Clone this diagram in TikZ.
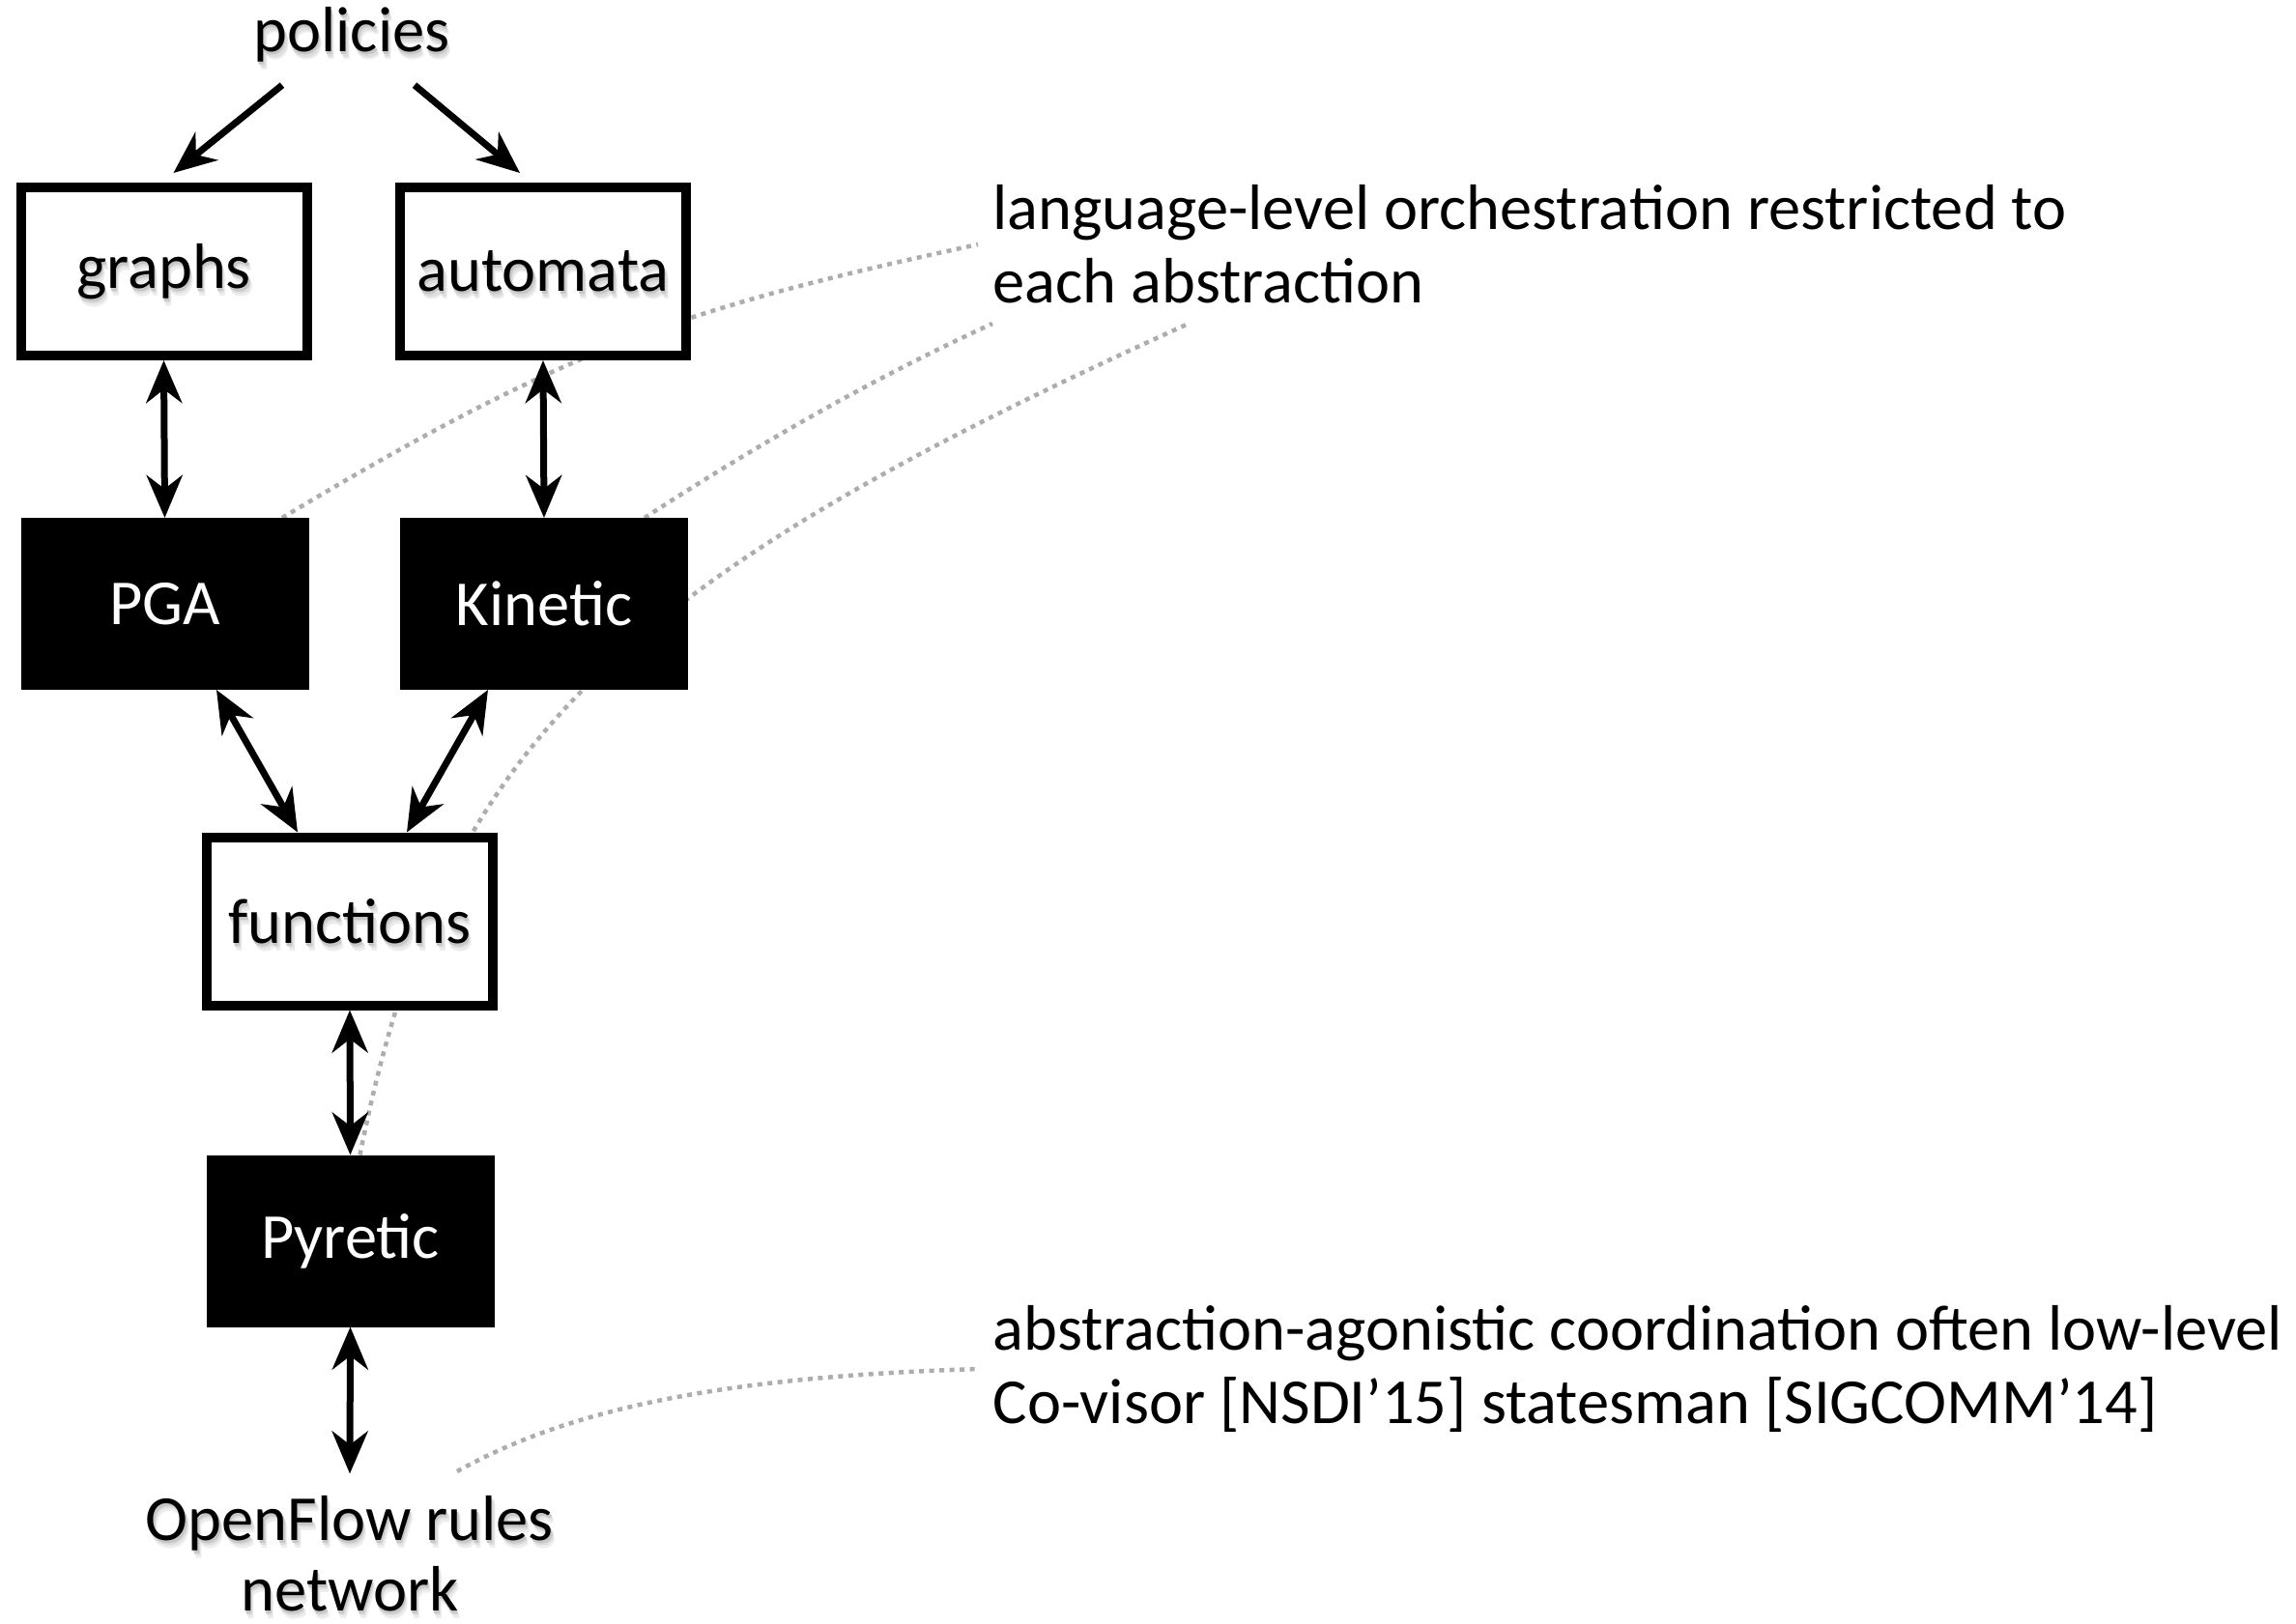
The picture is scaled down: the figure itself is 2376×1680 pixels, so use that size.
\documentclass[tikz,border=0pt]{standalone}
\usepackage{fontspec}
\setmainfont{Carlito}
\usetikzlibrary{arrows.meta,backgrounds,calc}

% text with a soft drop shadow underneath
\newcommand\softshadow[1]{%
  \rlap{\smash{\kern0.35mm\raisebox{-0.8mm}{\textcolor{black!7}{#1}}}}%
  \rlap{\smash{\kern0.25mm\raisebox{-0.55mm}{\textcolor{black!13}{#1}}}}%
  \rlap{\smash{\kern0.12mm\raisebox{-0.3mm}{\textcolor{black!22}{#1}}}}%
  #1}

\tikzset{
  lab/.style={font=\fontsize{18.9}{20.8}\selectfont},
  wbox/.style={lab, draw=black, line width=1mm, fill=white,
    minimum width=29.6mm, minimum height=17.4mm, inner sep=0},
  bbox/.style={lab, fill=black, text=white,
    minimum width=29.8mm, minimum height=17.8mm, inner sep=0, outer sep=0},
  tip/.tip={Stealth[length=4.4mm,width=3.7mm,inset=1.4mm]},
  arr/.style={line width=0.7mm, -tip},
  darr/.style={line width=0.7mm, tip-tip},
  dotline/.style={draw=black!32, line width=0.45mm, dash pattern=on 0.5mm off 0.55mm},
  note/.style={font=\fontsize{18.9}{21.6}\selectfont, align=left, inner sep=0, anchor=west}
}

\begin{document}
\begin{tikzpicture}[x=0.1mm, y=-0.1mm]
\useasboundingbox (0,0) rectangle (2376,1680);

% abstraction stack
\node[lab, inner sep=0] (policies) at (364,36) {\softshadow{policies}};
\node[wbox] (graphs) at (169.5,281) {\softshadow{graphs}};
\node[wbox] (automata) at (562,281) {\softshadow{automata}};
\node[bbox] (PGA) at (170.5,625) {PGA};
\node[bbox] (Kinetic) at (563,625) {Kinetic};
\node[wbox] (functions) at (362,953.5) {\softshadow{functions}};
\node[bbox] (Pyretic) at (362.5,1284.5) {Pyretic};
\node[lab, align=center, inner sep=0] (openflow) at (362,1608)
  {\softshadow{OpenFlow rules}\\\softshadow{network}};

% side notes
\node[note] (note1) at (1027,253)
  {language-level orchestration restricted to\\each abstraction};
\node[note] (note2) at (1027,1417)
  {abstraction-agonistic coordination often low-level\\Co-visor [NSDI’15] statesman [SIGCOMM’14]};

% arrows between layers
\draw[arr] ([xshift=-7.2mm,yshift=-2.3mm]policies.south) -- ([xshift=1mm,yshift=1mm]graphs.north);
\draw[arr] ([xshift=6.5mm,yshift=-2.3mm]policies.south) -- ([xshift=-2.4mm,yshift=1mm]automata.north);
\draw[darr] (graphs.south) -- (PGA.north);
\draw[darr] (automata.south) -- (Kinetic.north);
\draw[darr] ([xshift=5.35mm]PGA.south) -- ([xshift=-5.4mm]functions.north);
\draw[darr] ([xshift=-5.8mm]Kinetic.south) -- ([xshift=5.9mm]functions.north);
\draw[darr] (functions.south) -- (Pyretic.north);
\draw[darr] (Pyretic.south) -- ([yshift=2.2mm]openflow.north);

% end points of the dotted leader lines
\coordinate (sA) at ([xshift=12.15mm]PGA.north);
\coordinate (sB) at ([xshift=10.4mm]Kinetic.north);
\coordinate (sC) at ([xshift=1mm]Pyretic.north);
\coordinate (sD) at (473,1523);
\coordinate (nA) at ([xshift=-1.5mm]note1.west);
\coordinate (nB) at ([yshift=-2mm]note1.south west);
\coordinate (nC) at ([xshift=20.3mm,yshift=-2mm]note1.south west);
\coordinate (nD) at ([xshift=-1.5mm]note2.west);

\begin{scope}[on background layer]
  \fill[white] (0,0) rectangle (2376,1680);
  \draw[dotline] (sA) .. controls (592,356) and (712,318) .. (nA);
  \draw[dotline] (sB) .. controls (787,458) and (907,390) .. (nB);
  \draw[dotline] (sC) .. controls (455,779) and (627,607) .. (nC);
  \draw[dotline] (sD) .. controls (593,1456) and (755,1425) .. (nD);
\end{scope}
\end{tikzpicture}
\end{document}
